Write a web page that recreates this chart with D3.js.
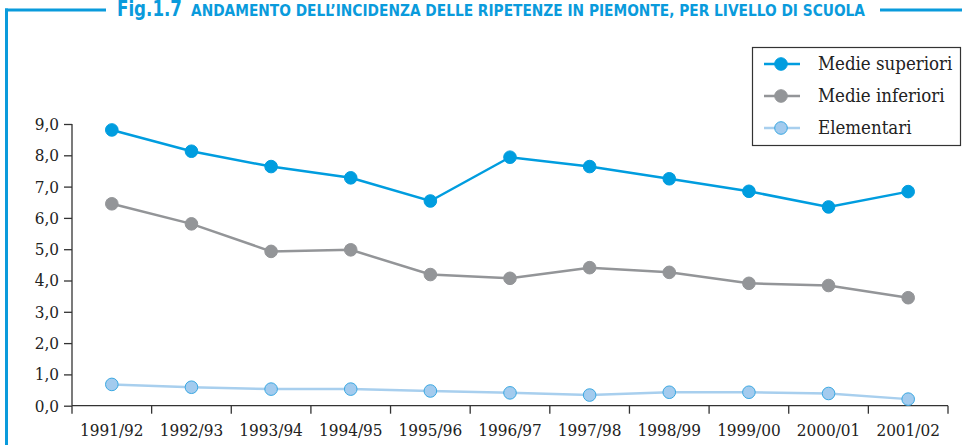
<html>
<head>
<script src="https://d3js.org/d3.v7.min.js"></script>
<style>
  body { margin: 0; background: #fff; }
  .tick text { font-family: "DejaVu Serif Condensed", "DejaVu Serif", serif; font-stretch: condensed; fill: #222; }
  .domain, .tick line { stroke: #333; stroke-width: 1.3px; }
  .line { fill: none; stroke-width: 2.5px; }
</style>
</head>
<body>
<script>
var years = ["1991/92", "1992/93", "1993/94", "1994/95", "1995/96", "1996/97",
             "1997/98", "1998/99", "1999/00", "2000/01", "2001/02"];
var superiori = [8.81, 8.13, 7.64, 7.28, 6.54, 7.94, 7.64, 7.25, 6.85, 6.35, 6.84];
var inferiori = [6.45, 5.81, 4.93, 4.98, 4.19, 4.07, 4.41, 4.26, 3.91, 3.84, 3.45];
var elementari = [0.68, 0.59, 0.53, 0.53, 0.47, 0.41, 0.34, 0.43, 0.43, 0.39, 0.21];
var yTicks = [0, 1, 2, 3, 4, 5, 6, 7, 8, 9];
var seriesNames = ["Medie superiori", "Medie inferiori", "Elementari"];

var series = [
  {name: seriesNames[0], values: superiori, line: "#009ddf", fill: "#009ddf", stroke: "#009ddf"},
  {name: seriesNames[1], values: inferiori, line: "#939598", fill: "#939598", stroke: "#939598"},
  {name: seriesNames[2], values: elementari, line: "#a8cfee", fill: "#a3cbee", stroke: "#3aa8e2"}
];

var W = 962, H = 445;
var svg = d3.select("body").append("svg")
    .attr("width", W)
    .attr("height", H);

// frame and title
var blue = "#0a9bdc";
svg.append("line").attr("x1", 5).attr("x2", 106).attr("y1", 10).attr("y2", 10)
    .attr("stroke", blue).attr("stroke-width", 3);
svg.append("line").attr("x1", 880).attr("x2", 962).attr("y1", 10).attr("y2", 10)
    .attr("stroke", blue).attr("stroke-width", 3);
svg.append("line").attr("x1", 6.5).attr("x2", 6.5).attr("y1", 8.5).attr("y2", H)
    .attr("stroke", blue).attr("stroke-width", 3);

var title = svg.append("text")
    .attr("y", 15.5)
    .attr("fill", blue)
    .style("font-family", "'DejaVu Sans Condensed', 'DejaVu Sans', sans-serif")
    .style("font-stretch", "condensed")
    .style("font-weight", "bold");
title.append("tspan").attr("x", 117).style("font-size", "20.5px")
    .attr("textLength", 65).attr("lengthAdjust", "spacingAndGlyphs")
    .text("Fig.1.7");
title.append("tspan").attr("x", 191).style("font-size", "15px")
    .attr("textLength", 674).attr("lengthAdjust", "spacingAndGlyphs")
    .text("ANDAMENTO DELL\u2019INCIDENZA DELLE RIPETENZE IN PIEMONTE, PER LIVELLO DI SCUOLA");

// chart
var x = d3.scaleBand().domain(years).range([72, 948]);
var y = d3.scaleLinear().domain([0, 9]).range([405.7, 124]);

var gx = svg.append("g")
    .attr("transform", "translate(0," + y(0) + ")")
    .call(d3.axisBottom(x).tickSize(0).tickPadding(18));
gx.selectAll(".tick text").style("font-size", "17px");
gx.select(".domain").attr("d", "M72,0H948");
// tick marks at band edges
gx.selectAll(".edge")
    .data(years.concat(["end"]))
    .enter().append("line")
    .attr("x1", function(d, i) { return 72 + i * x.step(); })
    .attr("x2", function(d, i) { return 72 + i * x.step(); })
    .attr("y1", 0).attr("y2", 8)
    .attr("stroke", "#333").attr("stroke-width", 1.3);

var gy = svg.append("g")
    .attr("transform", "translate(72,0)")
    .call(d3.axisLeft(y).tickValues(yTicks).tickSize(8).tickPadding(5)
        .tickFormat(function(d) { return d3.format(".1f")(d).replace(".", ","); }));
gy.selectAll(".tick text").style("font-size", "17px");
gy.select(".domain").attr("d", "M0," + y(9) + "V" + y(0));

var line = d3.line()
    .x(function(d, i) { return x(years[i]) + x.bandwidth() / 2; })
    .y(function(d) { return y(d); });

series.forEach(function(s) {
  svg.append("path")
      .attr("class", "line")
      .attr("stroke", s.line)
      .attr("d", line(s.values));
  svg.selectAll(null)
      .data(s.values)
      .enter().append("circle")
      .attr("cx", function(d, i) { return x(years[i]) + x.bandwidth() / 2; })
      .attr("cy", function(d) { return y(d); })
      .attr("r", 6.3)
      .attr("fill", s.fill)
      .attr("stroke", s.stroke)
      .attr("stroke-width", 1);
});

// legend
var legend = svg.append("g");
legend.append("rect")
    .attr("x", 752.5).attr("y", 47.5).attr("width", 208).attr("height", 98)
    .attr("fill", "#fff").attr("stroke", "#333").attr("stroke-width", 1.2);
var rows = legend.selectAll(".row")
    .data(series)
    .enter().append("g")
    .attr("transform", function(d, i) { return "translate(0," + (64 + i * 32) + ")"; });
rows.append("line")
    .attr("x1", 764).attr("x2", 800).attr("y1", 0).attr("y2", 0)
    .attr("stroke", function(d) { return d.line; }).attr("stroke-width", 2.5);
rows.append("circle")
    .attr("cx", 781).attr("cy", 0).attr("r", 6.3)
    .attr("fill", function(d) { return d.fill; })
    .attr("stroke", function(d) { return d.stroke; }).attr("stroke-width", 1);
rows.append("text")
    .attr("x", 818).attr("y", 6)
    .style("font-family", "'DejaVu Serif Condensed', 'DejaVu Serif', serif")
    .style("font-stretch", "condensed")
    .style("font-size", "18.5px")
    .attr("fill", "#222")
    .text(function(d) { return d.name; });
</script>
</body>
</html>
